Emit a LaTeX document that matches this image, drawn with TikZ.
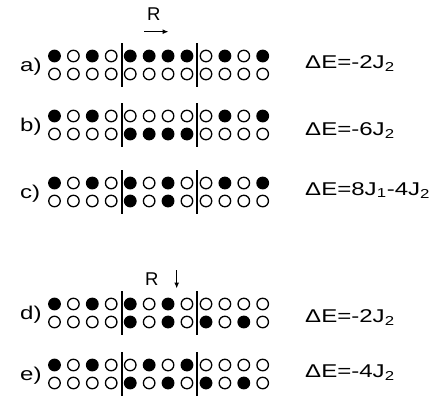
\documentclass[tikz,border=0pt]{standalone}
\usepackage{fontspec}
\setmainfont{Liberation Sans}
\usetikzlibrary{arrows.meta}
\tikzset{
  spin/.style={circle,draw,line width=1.3pt,minimum size=11.5pt,inner sep=0pt},
  s0/.style={spin,fill=white},
  s1/.style={spin,fill=black},
  divider/.style={line width=2pt},
  lbl/.style={anchor=base west,inner sep=0pt,font=\fontsize{18.5}{20}\selectfont},
  rarrow/.style={line width=1.2pt,-{Latex[length=6pt,width=5pt]}}
}
\newcommand{\wide}[1]{\scalebox{1.3}[1]{#1}}
\newcommand{\spinrow}[3]{%
  \foreach \s [count=\i] in {#3} {%
    \pgfmathsetmacro\xx{54.5+75.75*int((\i-1)/4)+18.9*mod(\i-1,4)}%
    \node[s\s] (#1-\i) at (\xx,#2) {};
  }}
\newcommand{\spinblock}[4]{%
  \spinrow{#1t}{#2}{#3}%
  \spinrow{#1b}{#2+18}{#4}%
  \coordinate (#1-d1t) at (121.5,#2-13);
  \coordinate (#1-d1b) at (121.5,#2+31);
  \coordinate (#1-d2t) at (197.3,#2-13);
  \coordinate (#1-d2b) at (197.3,#2+31);
  \draw[divider] (#1-d1t) -- (#1-d1b);
  \draw[divider] (#1-d2t) -- (#1-d2b);
}
\begin{document}
\begin{tikzpicture}[x=1pt,y=-1pt]
\useasboundingbox (0,0) rectangle (430,399);
% R right
\node[lbl] (R1) at (147,20) {R};
\coordinate (r1a) at (144,31.7);
\coordinate (r1b) at (168.5,31.7);
\draw[rarrow] (r1a) -- (r1b);
% R down
\node[lbl] (R2) at (145,285) {R};
\coordinate (r2a) at (176.7,270);
\coordinate (r2b) at (176.7,288.5);
\draw[rarrow] (r2a) -- (r2b);

\spinblock{a}{56}{1,0,1,0,1,1,1,1,0,1,0,1}{0,0,0,0,0,0,0,0,0,0,0,0}
\spinblock{b}{116}{1,0,1,0,0,0,0,0,0,1,0,1}{0,0,0,0,1,1,1,1,0,0,0,0}
\spinblock{c}{183}{1,0,1,0,1,0,1,0,0,1,0,1}{0,0,0,0,1,0,1,0,0,0,0,0}
\spinblock{d}{304}{1,0,1,0,1,0,1,0,0,0,0,0}{0,0,0,0,1,0,1,0,1,0,1,0}
\spinblock{e}{365}{1,0,1,0,0,1,0,1,0,0,0,0}{0,0,0,0,1,0,1,0,1,0,1,0}

\node[lbl] (la) at (20,71) {\wide{a)}};
\node[lbl] (lb) at (20,131) {\wide{b)}};
\node[lbl] (lc) at (20,198) {\wide{c)}};
\node[lbl] (ld) at (20,319) {\wide{d)}};
\node[lbl] (le) at (20,380) {\wide{e)}};

\node[lbl] (ea) at (305,68) {\wide{ΔE=-2J\textsubscript{2}}};
\node[lbl] (eb) at (305,135) {\wide{ΔE=-6J\textsubscript{2}}};
\node[lbl] (ec) at (305,195) {\wide{ΔE=8J\textsubscript{1}-4J\textsubscript{2}}};
\node[lbl] (ed) at (305,322) {\wide{ΔE=-2J\textsubscript{2}}};
\node[lbl] (ee) at (305,377) {\wide{ΔE=-4J\textsubscript{2}}};
\end{tikzpicture}
\end{document}
